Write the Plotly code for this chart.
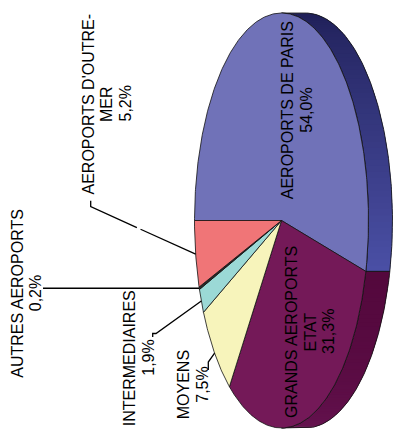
import numpy as np
import plotly.graph_objects as go

# ---- data ----
names = ["AEROPORTS DE PARIS", "GRANDS AEROPORTS<br>ETAT", "MOYENS",
         "INTERMEDIAIRES", "AUTRES AEROPORTS", "AEROPORTS D'OUTRE-<br>MER"]
values = [54.0, 31.3, 7.5, 1.9, 0.2, 5.2]
top_colors = ["#7072b8", "#741958", "#f7f4bb", "#9bd9d6", "#2a2a2a", "#f07577"]
side_from = ["#1f1f57", "#54083d", None, None, None, None]
side_to = ["#4b50a6", "#681452", None, None, None, None]

# ---- layout geometry (pseudo-3D ellipse) ----
W, H = 395, 434
CX, CY, RX, RY, DEPTH = 281.5, 220.5, 87.0, 207.5, 24.0
START = 180.0  # degrees, slices go clockwise on screen
LINE_GAP = 18.5

# label block centres and leader-line anchors (layout positions)
label_pos = [(296.5, 110), (309.5, 332), (192.5, 385), (138.5, 358), (26, 293), (106, 104)]
leader_anchor = [None, None,
                 [(208.3, 370), (208.3, 362)],
                 [(152.7, 337), (152.7, 333.5), (156, 333.5)],
                 [(43, None)],
                 [(90.7, 200.7), (90.7, 206.7)]]


def ell(t_deg, dx=0.0):
    t = np.radians(t_deg)
    return CX + dx + RX * np.cos(t), CY - RY * np.sin(t)


def hex2rgb(h):
    h = h.lstrip("#")
    return np.array([int(h[k:k + 2], 16) for k in (0, 2, 4)], dtype=float)


def mix(c1, c2, f):
    c = hex2rgb(c1) * (1 - f) + hex2rgb(c2) * f
    return "rgb(%d,%d,%d)" % tuple(np.round(c).astype(int))


total = float(sum(values))
bounds = [START]
for v in values:
    bounds.append(bounds[-1] - v / total * 360.0)

fig = go.Figure()

# sides (visible where cos t > 0), shaded as overlapping strips
for i, v in enumerate(values):
    t0, t1 = bounds[i], bounds[i + 1]
    a, b = min(t0, 90.0), max(t1, -90.0)
    if a <= b or side_from[i] is None:
        continue
    N = 60
    edges = np.linspace(a, b, N + 1)
    step = edges[1] - edges[0]
    for k in range(N):
        end = edges[k + 1] + (step * 0.8 if k < N - 1 else 0)
        ts = np.linspace(edges[k], end, 5)
        xs1, ys1 = ell(ts)
        xs2, ys2 = ell(ts[::-1], DEPTH)
        f = ((k + 0.5) / N) ** 1.4
        col = mix(side_from[i], side_to[i], f)
        fig.add_trace(go.Scatter(
            x=np.concatenate([xs1, xs2, xs1[:1]]), y=np.concatenate([ys1, ys2, ys1[:1]]),
            mode="none", fill="toself", fillcolor=col,
            hoverinfo="skip", showlegend=False))
    ts = np.linspace(a, b, 120)
    xs1, ys1 = ell(ts)
    xs2, ys2 = ell(ts[::-1], DEPTH)
    fig.add_trace(go.Scatter(
        x=np.concatenate([xs1, xs2, xs1[:1]]), y=np.concatenate([ys1, ys2, ys1[:1]]),
        mode="lines", line=dict(color="#111111", width=0.8),
        hoverinfo="skip", showlegend=False))

# top face wedges
for i, v in enumerate(values):
    t0, t1 = bounds[i], bounds[i + 1]
    n = max(3, int(abs(t0 - t1) * 2))
    ts = np.linspace(t0, t1, n)
    xs, ys = ell(ts)
    xs = np.concatenate([[CX], xs, [CX]])
    ys = np.concatenate([[CY], ys, [CY]])
    fig.add_trace(go.Scatter(
        x=xs, y=ys, mode="lines", fill="toself", fillcolor=top_colors[i],
        line=dict(color="#111111", width=0.8),
        hoverinfo="text", hovertext=f"{names[i].replace('<br>', ' ')}: {v}%",
        showlegend=False))

# leader lines
for i, v in enumerate(values):
    anc = leader_anchor[i]
    if anc is None:
        continue
    mid = (bounds[i] + bounds[i + 1]) / 2.0
    px, py = ell(mid)
    pts = [(ax, py if ay is None else ay) for ax, ay in anc] + [(px, py)]
    xs = [p[0] for p in pts]
    ys = [p[1] for p in pts]
    if i == 5:
        (x0, y0), (x1, y1) = pts[-2], pts[-1]
        fa, fb = 0.44, 0.475
        xa, ya = x0 + (x1 - x0) * fa, y0 + (y1 - y0) * fa
        xb, yb = x0 + (x1 - x0) * fb, y0 + (y1 - y0) * fb
        xs = xs[:-1] + [xa, None, xb, x1]
        ys = ys[:-1] + [ya, None, yb, y1]
    fig.add_trace(go.Scatter(x=xs, y=ys, mode="lines",
                             line=dict(color="#000000", width=1.3),
                             hoverinfo="skip", showlegend=False))

# labels (each text line placed separately for tighter line spacing)
for i, v in enumerate(values):
    pct = f"{v:.1f}".replace(".", ",") + "%"
    lines = names[i].split("<br>") + [pct]
    lx, ly = label_pos[i]
    n = len(lines)
    for j, txt in enumerate(lines):
        fig.add_annotation(x=lx + (j - (n - 1) / 2.0) * LINE_GAP, y=ly, xref="x", yref="y",
                           text=txt, showarrow=False, textangle=-90,
                           font=dict(family="Liberation Sans, Arial, sans-serif", size=16,
                                     color="#000000"))

fig.update_xaxes(range=[0, W], visible=False, fixedrange=True)
fig.update_yaxes(range=[H, 0], visible=False, fixedrange=True)
fig.update_layout(width=W, height=H, margin=dict(l=0, r=0, t=0, b=0),
                  paper_bgcolor="white", plot_bgcolor="white", showlegend=False)

fig.write_html("out.html", config={"displayModeBar": False},
               post_script="document.body.style.margin='0';document.body.style.overflow='hidden';")
